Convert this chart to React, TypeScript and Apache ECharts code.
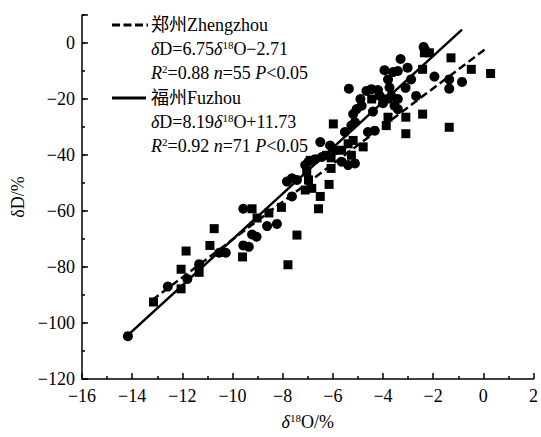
import { useEffect, useRef } from 'react';
import * as echarts from 'echarts';

// Zhengzhou samples (squares): [δ18O, δD]
const zhengzhouPoints: [number, number][] = [
  [-13.15, -92.5], [-12.05, -80.8], [-12.05, -87.8], [-11.33, -81.9], [-11.85, -74.3],
  [-9.6, -76.4], [-10.73, -66.3], [-10.9, -72.3], [-9.22, -59.2], [-9.02, -62.5],
  [-8.55, -60.7], [-8.05, -58.7], [-7.43, -68.6], [-7.79, -79.2], [-7.1, -52.5],
  [-6.84, -51.9], [-6.5, -54.8], [-6.57, -59.2], [-6.15, -50.5], [-7.04, -46.0],
  [-6.9, -41.9], [-6.07, -41.0], [-6.07, -44.8], [-6.25, -40.1], [-5.65, -38.3],
  [-5.39, -36.0], [-5.19, -34.8], [-5.26, -40.1], [-4.79, -37.1], [-5.98, -28.9],
  [-4.45, -20.0], [-3.8, -20.0], [-3.8, -26.5], [-3.87, -29.5], [-3.09, -26.5],
  [-2.42, -25.4], [-3.09, -32.4], [-1.36, -30.1], [-2.42, -9.4], [-2.35, -3.5],
  [-2.15, -3.5], [-1.29, -5.3], [-0.48, -9.4], [0.29, -10.9], [-6.97, -48.9],
];

// Fuzhou samples (circles): [δ18O, δD]
const fuzhouPoints: [number, number][] = [
  [-14.17, -104.7], [-12.58, -87.0], [-11.8, -84.3], [-11.33, -79.0], [-10.53, -74.9],
  [-10.27, -74.9], [-9.57, -72.3], [-9.35, -72.8], [-9.22, -68.4], [-9.04, -69.2],
  [-8.62, -65.4], [-8.23, -64.6], [-9.57, -59.2], [-7.83, -49.5], [-7.63, -48.3],
  [-7.43, -48.9], [-7.63, -54.8], [-7.1, -43.6], [-6.97, -42.4], [-6.7, -41.5],
  [-6.44, -40.7], [-5.65, -42.4], [-5.39, -43.6], [-5.12, -43.0], [-6.5, -35.4],
  [-6.11, -36.6], [-5.9, -38.3], [-5.52, -31.8], [-5.12, -28.3], [-4.6, -31.8],
  [-4.33, -31.3], [-5.05, -23.6], [-4.85, -22.4], [-5.19, -25.4], [-5.26, -29.5],
  [-5.36, -16.3], [-4.66, -17.1], [-4.46, -16.5], [-4.2, -16.8], [-4.13, -18.9],
  [-3.67, -18.9], [-2.68, -18.9], [-3.54, -22.4], [-3.41, -23.6], [-3.8, -13.0],
  [-3.74, -15.9], [-3.94, -9.7], [-3.6, -10.4], [-3.41, -10.0], [-3.02, -8.8],
  [-3.3, -5.7], [-2.88, -13.0], [-2.38, -1.4], [-2.33, -2.4], [-1.95, -12.0],
  [-1.36, -13.0], [-1.36, -16.3], [-0.85, -13.9], [-3.41, -20.0], [-4.9, -20.0],
  [-4.0, -21.5], [-3.1, -16.0], [-4.4, -24.5],
];

// Regression lines: slope, intercept, x range
const zhengzhouFit = { slope: 6.75, intercept: -2.71, xStart: -13.2, xEnd: 0.05 };
const fuzhouFit = { slope: 8.19, intercept: 11.73, xStart: -14.17, xEnd: -0.85 };

// Axis ranges
const xRange = { min: -16, max: 2, interval: 2 };
const yRange = { min: -120, max: 10, interval: 20 };

const legendLines = [
  '郑州Zhengzhou',
  '{i|δ}D=6.75{i|δ}{sup|18}O−2.71',
  '{i|R}{sup|2}=0.88 {i|n}=55 {i|P}<0.05',
  '福州Fuzhou',
  '{i|δ}D=8.19{i|δ}{sup|18}O+11.73',
  '{i|R}{sup|2}=0.92 {i|n}=71 {i|P}<0.05',
];

const SERIF = "'Liberation Serif', 'Times New Roman', 'Noto Sans CJK SC', serif";

const fitLine = (f: { slope: number; intercept: number; xStart: number; xEnd: number }) => [
  [f.xStart, f.slope * f.xStart + f.intercept],
  [f.xEnd, f.slope * f.xEnd + f.intercept],
];

const minus = (v: number) => String(v).replace('-', '−');

export default function App() {
  const ref = useRef<HTMLDivElement>(null);

  useEffect(() => {
    document.body.style.margin = '0';
    if (!ref.current) return;
    const chart = echarts.init(ref.current, null, { renderer: 'svg' });

    const tickStyle = { color: '#000', width: 1.5 };
    const graphicRich = {
      i: { fontStyle: 'italic', fontSize: 18, fontFamily: SERIF, fill: '#000' },
      sup: { fontSize: 11, fontFamily: SERIF, fill: '#000', verticalAlign: 'top', lineHeight: 9 },
    };
    const labelRich = {
      t: { fontSize: 18, fontFamily: SERIF, color: '#000' },
      i: { fontStyle: 'italic', fontSize: 18, fontFamily: SERIF, color: '#000' },
      sup: { fontSize: 11, fontFamily: SERIF, color: '#000', verticalAlign: 'top', lineHeight: 9 },
    };
    const legendY = [25, 49, 73, 98, 122, 146];

    chart.setOption({
      animation: false,
      backgroundColor: '#fff',
      textStyle: { fontFamily: SERIF },
      grid: { left: 82, right: 4, top: 15, bottom: 54 },
      xAxis: {
        type: 'value',
        min: xRange.min,
        max: xRange.max,
        interval: xRange.interval,
        axisLine: { show: true, onZero: false, lineStyle: tickStyle },
        axisTick: { show: true, inside: true, length: 6, lineStyle: tickStyle },
        minorTick: { show: true, splitNumber: 2, length: 3, lineStyle: tickStyle },
        splitLine: { show: false },
        axisLabel: {
          formatter: (v: number) => `{t|${minus(v)}}`,
          fontSize: 18,
          fontFamily: SERIF,
          color: '#000',
          margin: 8,
          rich: labelRich,
        },
        name: '{i|δ}{sup|18}O/%',
        nameLocation: 'middle',
        nameGap: 33,
        nameTextStyle: {
          fontSize: 18,
          fontFamily: SERIF,
          color: '#000',
          lineHeight: 20,
          rich: labelRich,
        },
      },
      yAxis: [
        {
          type: 'value',
          min: yRange.min,
          max: yRange.max,
          interval: yRange.interval,
          axisLine: { show: true, onZero: false, lineStyle: tickStyle },
          axisTick: { show: true, inside: true, length: 6, lineStyle: tickStyle },
          splitLine: { show: false },
          axisLabel: {
            formatter: (v: number) => (v > 0 ? '' : `{t|${minus(v)}}`),
            fontSize: 18,
            fontFamily: SERIF,
            color: '#000',
            margin: 7,
            rich: labelRich,
          },
          name: '{t|δD/%}',
          nameLocation: 'middle',
          nameGap: 44,
          nameTextStyle: { fontSize: 18, fontFamily: SERIF, color: '#000', rich: labelRich },
        },
        {
          type: 'value',
          min: yRange.min,
          max: yRange.max,
          interval: yRange.interval / 2,
          position: 'left',
          axisLine: { show: false, onZero: false },
          axisTick: { show: true, inside: true, length: 3, lineStyle: tickStyle },
          axisLabel: { show: false },
          splitLine: { show: false },
        },
      ],
      series: [
        {
          type: 'scatter',
          name: 'Zhengzhou',
          symbol: 'rect',
          symbolSize: 9,
          itemStyle: { color: '#000', opacity: 1 },
          data: zhengzhouPoints,
        },
        {
          type: 'scatter',
          name: 'Fuzhou',
          symbol: 'circle',
          symbolSize: 10,
          itemStyle: { color: '#000', opacity: 1 },
          data: fuzhouPoints,
        },
        {
          type: 'line',
          symbol: 'none',
          lineStyle: { color: '#000', width: 2.5, type: [8, 4] },
          data: fitLine(zhengzhouFit),
          z: 5,
        },
        {
          type: 'line',
          symbol: 'none',
          lineStyle: { color: '#000', width: 2.5 },
          data: fitLine(fuzhouFit),
          z: 5,
        },
      ],
      graphic: [
        {
          type: 'line',
          shape: { x1: 112, y1: 25, x2: 148, y2: 25 },
          style: { stroke: '#000', lineWidth: 3, lineDash: [8, 3.5] },
        },
        {
          type: 'line',
          shape: { x1: 112, y1: 98, x2: 146, y2: 98 },
          style: { stroke: '#000', lineWidth: 3 },
        },
        ...legendLines.map((t, k) => ({
          type: 'text',
          x: 151,
          y: legendY[k],
          style: {
            text: t,
            fontSize: 18,
            fontFamily: SERIF,
            fill: '#000',
            verticalAlign: 'middle',
            lineHeight: 20,
            rich: graphicRich,
          },
        })),
      ],
    });

    return () => chart.dispose();
  }, []);

  return <div ref={ref} style={{ width: 541, height: 437 }} />;
}
